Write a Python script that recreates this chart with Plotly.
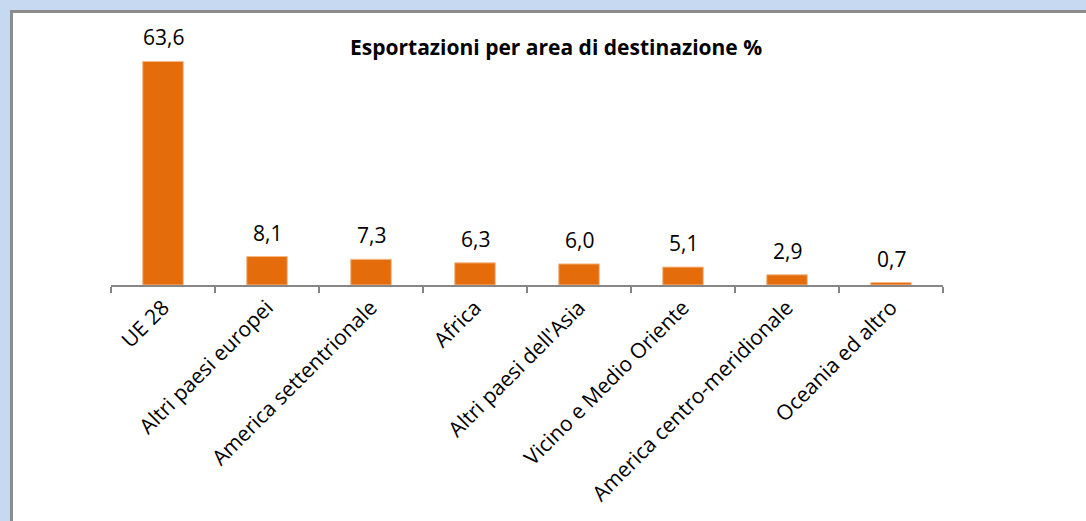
import plotly.graph_objects as go

# %% data
areas = ["UE 28", "Altri paesi europei", "America settentrionale", "Africa",
         "Altri paesi dell'Asia", "Vicino e Medio Oriente",
         "America centro-meridionale", "Oceania ed altro"]
quote = [63.6, 8.1, 7.3, 6.3, 6.0, 5.1, 2.9, 0.7]
titolo = "Esportazioni per area di destinazione %"

# %% figure
fig = go.Figure()
fig.add_trace(go.Bar(
    x=areas, y=quote,
    width=0.39,
    marker=dict(color="#e46c0a", line=dict(color="#f6b987", width=1)),
    hoverinfo="skip",
))

# value labels above the bars
for a, q in zip(areas, quote):
    fig.add_annotation(x=a, y=q, text=f"{q:.1f}".replace(".", ","),
                       showarrow=False, yanchor="bottom", yshift=8,
                       font=dict(family="Open Sans", size=21, color="#000000"))

# white panel with grey border on the light blue background
fig.add_shape(type="rect", xref="paper", yref="paper",
              x0=-0.1196, x1=1.2, y0=-1.1, y1=1.1118,
              fillcolor="white", line=dict(color="#8c8c8c", width=3),
              layer="below")

fig.add_annotation(text="<b>" + titolo + "</b>", xref="paper", yref="paper",
                   x=0.535, y=0.967, xanchor="center", yanchor="middle",
                   showarrow=False,
                   font=dict(family="Open Sans", size=21, color="#000000"))

fig.update_xaxes(showline=True, linecolor="#868686", linewidth=2,
                 ticks="outside", tickson="boundaries", ticklen=6,
                 tickcolor="#868686", tickwidth=2, tickangle=-45,
                 tickfont=dict(family="Open Sans", size=21, color="#000000"),
                 showgrid=False, automargin=False)
fig.update_yaxes(range=[0, 70], visible=False, showgrid=False,
                 automargin=False)

fig.update_layout(width=1086, height=521,
                  margin=dict(l=111, r=143, t=39, b=236),
                  paper_bgcolor="#c6d9f1", plot_bgcolor="rgba(0,0,0,0)",
                  showlegend=False, bargap=0.6)

fig.write_html("out.html", config={"displayModeBar": False},
               post_script="document.body.style.margin='0';")
